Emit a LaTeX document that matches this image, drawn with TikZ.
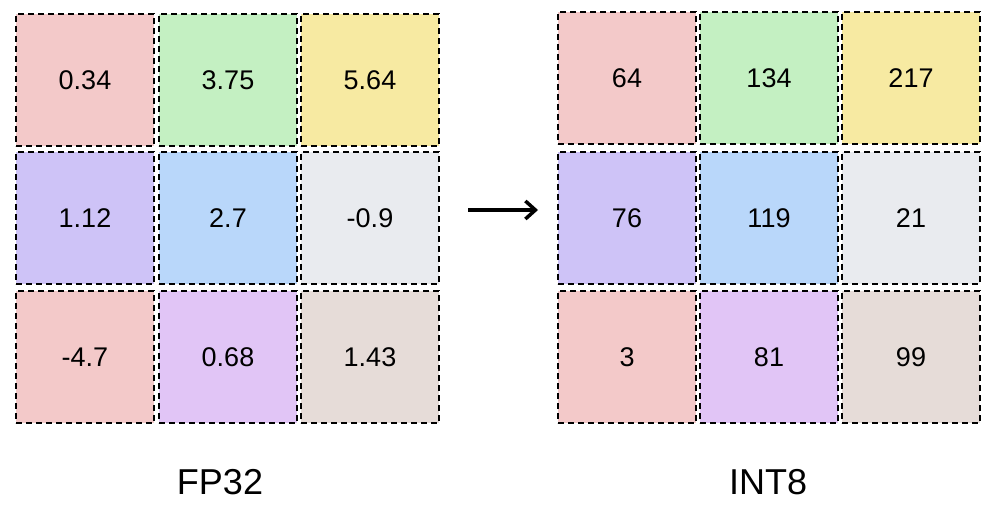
\documentclass[tikz,border=0pt]{standalone}
\usepackage{fontspec}
\setmainfont{Liberation Sans}
\usetikzlibrary{arrows.meta}
\definecolor{cpink}{HTML}{F3C9C9}
\definecolor{cgreen}{HTML}{C4F0C2}
\definecolor{cyellow}{HTML}{F7EAA2}
\definecolor{cpurple}{HTML}{CEC3F7}
\definecolor{cblue}{HTML}{B9D7FA}
\definecolor{cgray}{HTML}{E9EBEF}
\definecolor{clav}{HTML}{E1C5F6}
\definecolor{cbeige}{HTML}{E6DCD8}
\begin{document}
\begin{tikzpicture}[x=1pt,y=-1pt,
  cell/.style={draw=black,line width=2pt,dash pattern=on 6pt off 4pt,minimum width=138pt,minimum height=132pt,inner sep=0pt,font=\fontsize{27}{30}\selectfont},
  lab/.style={font=\fontsize{36}{40}\selectfont}]
\useasboundingbox (0,0) rectangle (1008,510);
\node[cell,fill=cpink] (a1) at (85,80) {0.34};
\node[cell,fill=cgreen] (a2) at (228,80) {3.75};
\node[cell,fill=cyellow] (a3) at (370,80) {5.64};
\node[cell,fill=cpurple] (a4) at (85,218) {1.12};
\node[cell,fill=cblue] (a5) at (228,218) {2.7};
\node[cell,fill=cgray] (a6) at (370,218) {-0.9};
\node[cell,fill=cpink] (a7) at (85,357) {-4.7};
\node[cell,fill=clav] (a8) at (228,357) {0.68};
\node[cell,fill=cbeige] (a9) at (370,357) {1.43};
\node[cell,fill=cpink] (b1) at (627,78) {64};
\node[cell,fill=cgreen] (b2) at (769,78) {134};
\node[cell,fill=cyellow] (b3) at (911,78) {217};
\node[cell,fill=cpurple] (b4) at (627,218) {76};
\node[cell,fill=cblue] (b5) at (769,218) {119};
\node[cell,fill=cgray] (b6) at (911,218) {21};
\node[cell,fill=cpink] (b7) at (627,357) {3};
\node[cell,fill=clav] (b8) at (769,357) {81};
\node[cell,fill=cbeige] (b9) at (911,357) {99};
\node[lab] (l1) at (220,482) {FP32};
\node[lab] (l2) at (768,482) {INT8};
\coordinate (s) at (468,210);
\coordinate (e) at (538,210);
\draw[line width=3.5pt,-{Straight Barb[length=10pt,width=18pt]}] (s) -- (e);
\end{tikzpicture}
\end{document}
